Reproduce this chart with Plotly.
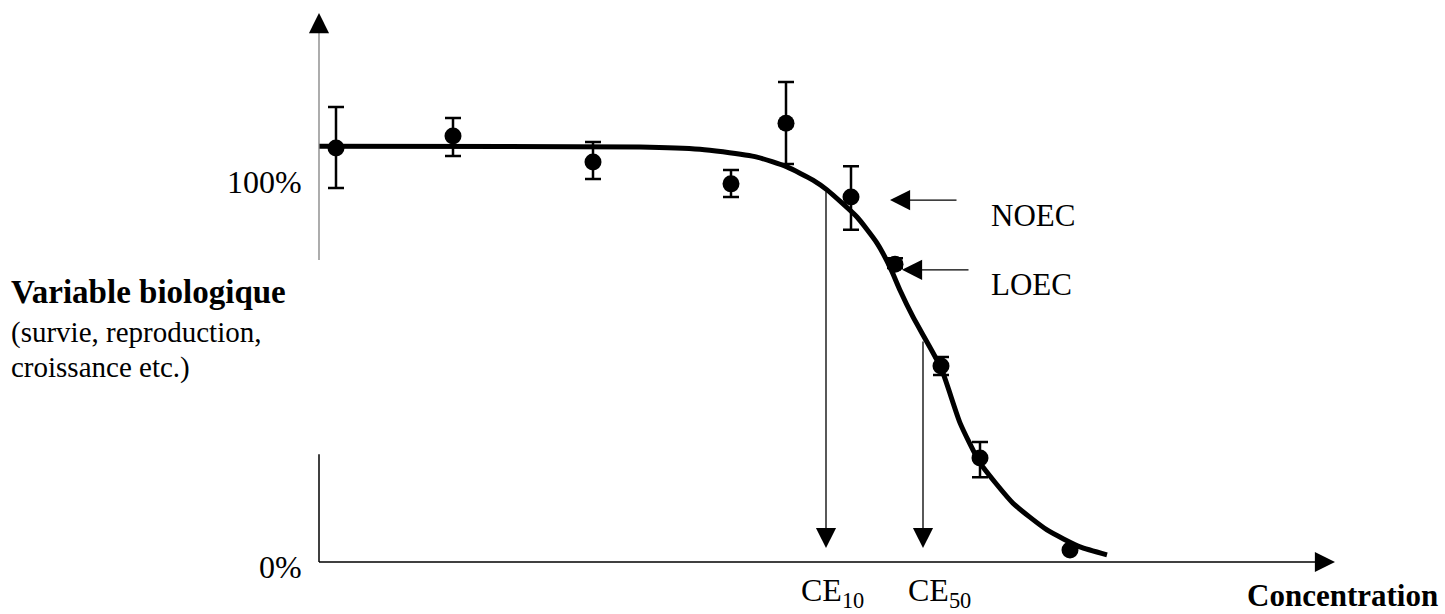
import plotly.graph_objects as go

# ---- data (concentration in arbitrary units, response in %) ----
conc = [1.7, 13.4, 27.4, 41.2, 46.7, 53.2, 57.6, 62.2, 66.1, 75.1]
response = [109.8, 113.0, 106.1, 100.3, 116.4, 96.8, 79.0, 52.0, 27.6, 3.2]
err_top = [120.7, 117.8, 111.4, 104.0, 127.3, 105.0, 80.6, 54.4, 31.8, 3.2]
err_bottom = [99.2, 107.7, 101.6, 96.8, 105.6, 88.1, 78.0, 49.6, 22.5, 3.2]

curve_x = [0.0, 32.1, 38.1, 40.4, 43.8, 46.8, 49.4, 50.8, 53.8, 55.8, 57.1, 58.1,
           59.4, 62.2, 64.1, 66.1, 69.4, 72.8, 76.1, 78.8]
curve_y = [110.3, 110.1, 109.5, 108.8, 107.4, 104.8, 101.3, 98.7, 91.5, 84.6, 78.2,
           72.1, 65.0, 51.5, 36.9, 26.3, 15.6, 8.5, 4.0, 1.9]

ce10_x, ce10_y = 50.7, 98.7
ce50_x, ce50_y = 60.4, 58.9
noec_tip, noec_tail, noec_y = 57.1, 63.9, 96.0
loec_tip, loec_tail, loec_y = 58.3, 65.1, 77.5

tick_labels = ["100%", "0%"]
tick_vals = [100, 0]

x_range = [-31.9, 112.6]
y_range = [-13.79, 149.07]
x_axis_end = 101.6
y_axis_top = 145.6

FONT = "Liberation Serif"

err_plus = [t - r for t, r in zip(err_top, response)]
err_minus = [r - b for r, b in zip(response, err_bottom)]

fig = go.Figure()

fig.add_trace(go.Scatter(
    x=curve_x, y=curve_y, mode="lines",
    line=dict(color="black", width=5, shape="spline", smoothing=0.5),
    hoverinfo="skip", showlegend=False))

fig.add_trace(go.Scatter(
    x=conc, y=response, mode="markers",
    marker=dict(color="black", size=17),
    error_y=dict(type="data", symmetric=False, array=err_plus, arrayminus=err_minus,
                 color="black", thickness=2.5, width=8),
    showlegend=False))

shapes = [
    # y axis upper (grey) and lower (black) segments
    dict(type="line", xref="x", yref="y", x0=0, x1=0, y0=80.1, y1=y_axis_top - 4,
         line=dict(color="#808080", width=1.3)),
    dict(type="line", xref="x", yref="y", x0=0, x1=0, y0=0, y1=28.6,
         line=dict(color="black", width=1.5)),
    # x axis
    dict(type="line", xref="x", yref="y", x0=0, x1=x_axis_end - 1.5, y0=0, y1=0,
         line=dict(color="black", width=1.5)),
]

annotations = []


def arrow(x, y, ax, ay):
    annotations.append(dict(
        x=x, y=y, ax=ax, ay=ay, xref="x", yref="y", axref="x", ayref="y",
        text="", showarrow=True, arrowhead=2, arrowsize=3.1, arrowwidth=1.3,
        arrowcolor="black", standoff=0))


arrow(0, y_axis_top, 0, y_axis_top - 3)
arrow(x_axis_end, 0, x_axis_end - 1, 0)
arrow(ce10_x, 3.7, ce10_x, ce10_y)
arrow(ce50_x, 3.7, ce50_x, ce50_y)
arrow(noec_tip, noec_y, noec_tail, noec_y)
arrow(loec_tip, loec_y, loec_tail, loec_y)


def label(text, x, y, size=30, xanchor="left", bold=False):
    t = f"<b>{text}</b>" if bold else text
    annotations.append(dict(
        x=x, y=y, xref="x", yref="y", text=t, showarrow=False,
        xanchor=xanchor, yanchor="middle",
        font=dict(family=FONT, size=size, color="black")))


label(tick_labels[0], -1.5, tick_vals[0] + 0.8, size=32, xanchor="right")
label(tick_labels[1], -1.5, tick_vals[1] - 1.33, size=32, xanchor="right")
label("Variable biologique", -31.0, 71.6, size=33, bold=True)
label("(survie, reproduction,", -31.0, 61.0, size=29)
label("croissance etc.)", -31.0, 51.7, size=29)
label("NOEC", 67.0, 92.0, size=31)
label("LOEC", 67.0, 73.5, size=31)
label("CE<sub>10</sub>", 48.0, -8.0, size=32)
label("CE<sub>50</sub>", 58.7, -8.0, size=32)
label("Concentration", 92.6, -9.0, size=31, bold=True)

fig.update_layout(
    width=1445, height=614,
    margin=dict(l=0, r=0, t=0, b=0),
    paper_bgcolor="white", plot_bgcolor="white",
    xaxis=dict(range=x_range, visible=False, fixedrange=True),
    yaxis=dict(range=y_range, visible=False, fixedrange=True),
    shapes=shapes, annotations=annotations,
)

fig.write_html("out.html", config={"displayModeBar": False},
               post_script="document.body.style.margin='0';document.body.style.overflow='hidden';")
